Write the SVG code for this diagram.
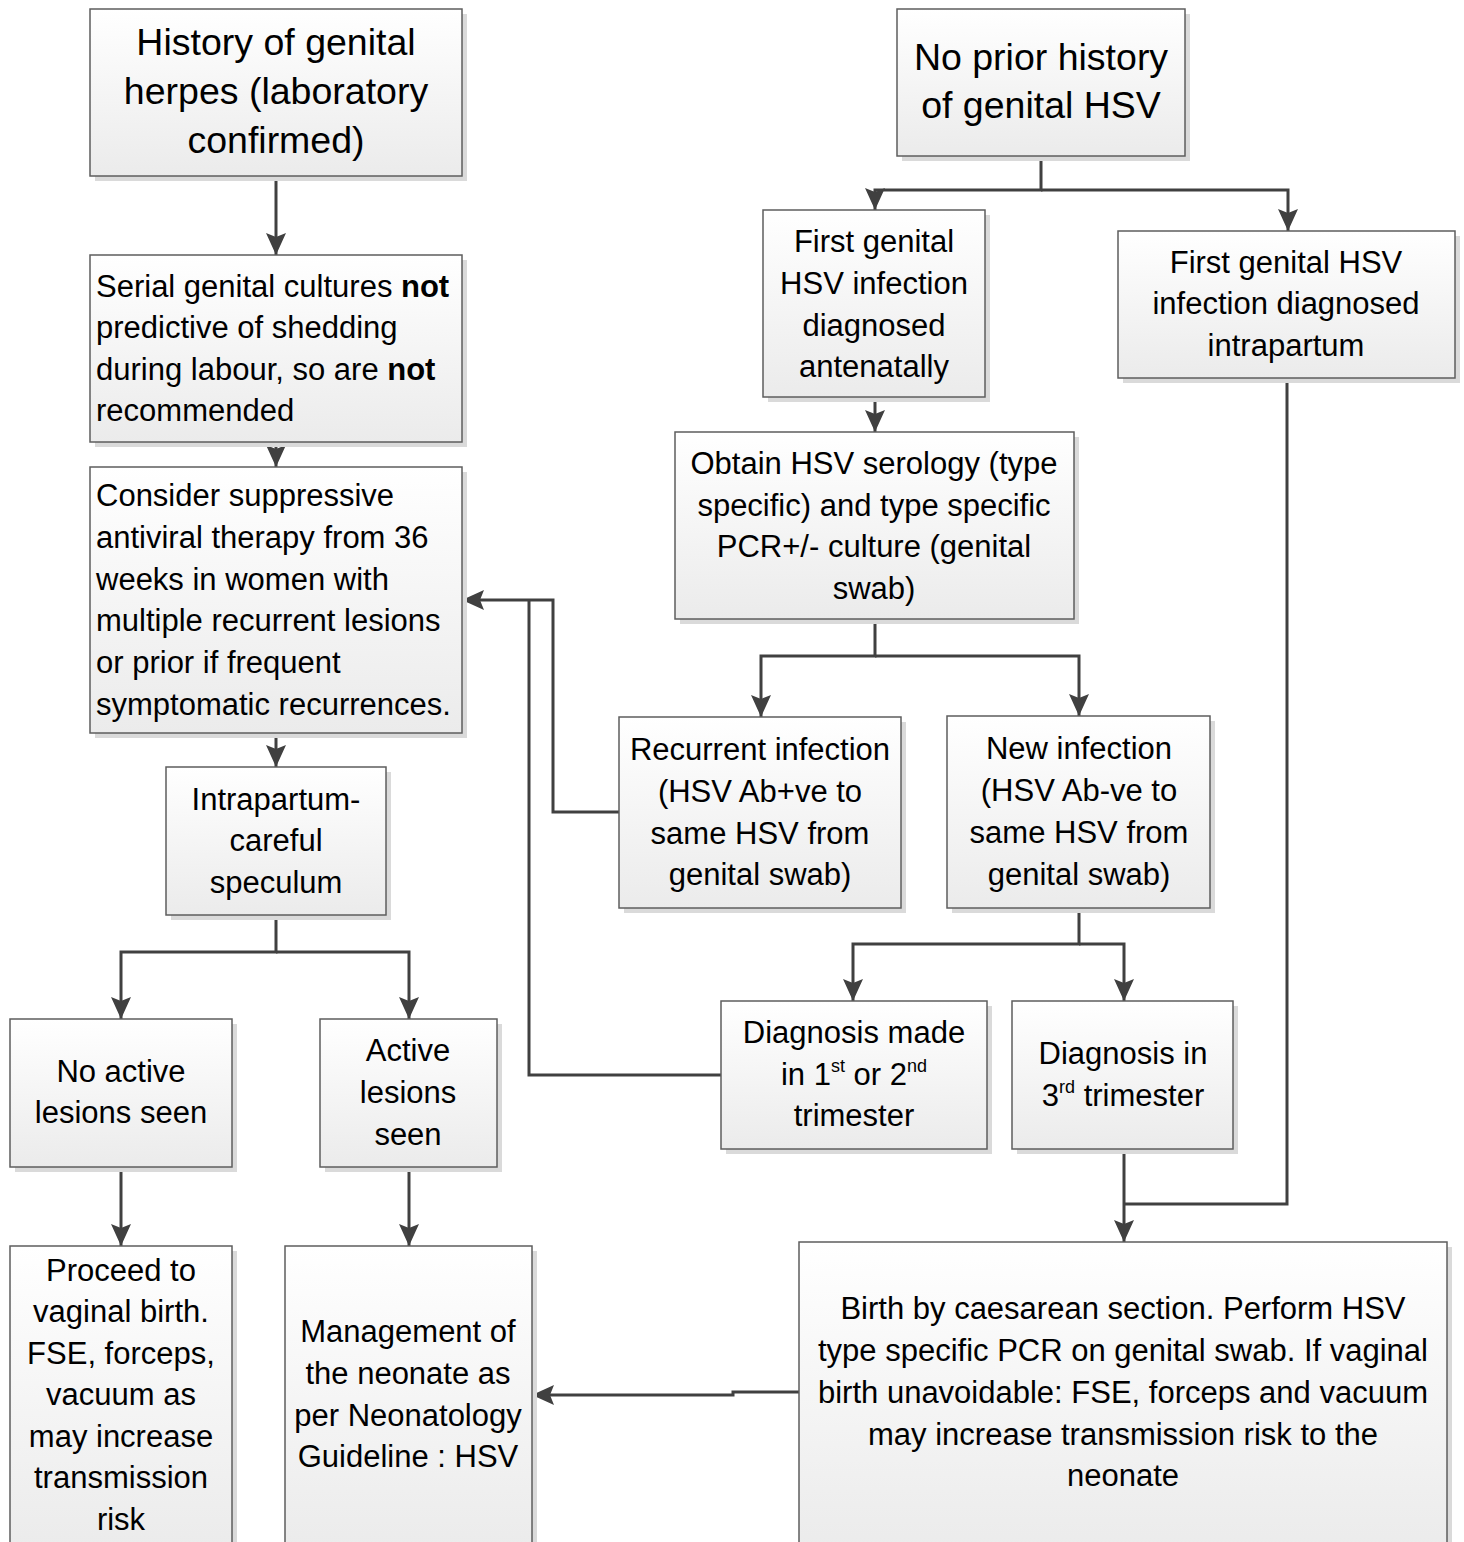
<svg xmlns="http://www.w3.org/2000/svg" width="1464" height="1542" viewBox="0 0 1464 1542">
<defs>
<linearGradient id="g" x1="0" y1="0" x2="0" y2="1">
<stop offset="0" stop-color="#ffffff"/>
<stop offset="1" stop-color="#ebebeb"/>
</linearGradient>
<marker id="ah" markerUnits="userSpaceOnUse" markerWidth="22" markerHeight="22" viewBox="0 0 22 22" refX="22" refY="11" orient="auto">
<path d="M0,1 L22,11 L0,21 L4,11 z" fill="#404040"/>
</marker>
</defs>
<style>
.sh{fill:#dadada}
.bx{fill:url(#g);stroke:#5e5e5e;stroke-width:1.5}
text{font-family:"Liberation Sans",Arial,sans-serif;fill:#000}
.t{font-size:37.5px;text-anchor:middle}
.b{font-size:31px;text-anchor:middle}
.l{font-size:31px}
.c{fill:none;stroke:#404040;stroke-width:3}
.a{marker-end:url(#ah)}
.sup{font-size:18px}
</style>
<rect width="1464" height="1542" fill="#fff"/>

<g id="connectors">
<path class="c a" d="M276,176 V255"/>
<path class="c a" d="M276,442 V467"/>
<path class="c a" d="M276,733 V767"/>
<path class="c a" d="M276,915 V952 H121 V1019"/>
<path class="c a" d="M276,952 H409 V1019"/>
<path class="c a" d="M121,1167 V1246"/>
<path class="c a" d="M409,1167 V1246"/>
<path class="c a" d="M1041,156 V190 H875 V210"/>
<path class="c a" d="M1041,190 H1288 V231"/>
<path class="c a" d="M875,397 V432"/>
<path class="c a" d="M875,619 V656 H761 V717"/>
<path class="c a" d="M875,656 H1079 V716"/>
<path class="c a" d="M619,812 H553 V600 H462"/>
<path class="c" d="M721,1075 H529 V600"/>
<path class="c a" d="M1079,908 V944 H853 V1001"/>
<path class="c a" d="M1079,944 H1124 V1001"/>
<path class="c a" d="M1124,1149 V1242"/>
<path class="c" d="M1287,378 V1204 H1124"/>
<path class="c a" d="M799,1392 H733 V1395 H532"/>
</g>

<g id="n1">
<rect class="sh" x="95" y="14" width="372" height="167"/>
<rect class="bx" x="90" y="9" width="372" height="167"/>
<text class="t"><tspan x="276" y="55">History of genital</tspan><tspan x="276" y="104">herpes (laboratory</tspan><tspan x="276" y="153">confirmed)</tspan></text>
</g>

<g id="n2">
<rect class="sh" x="95" y="260" width="372" height="187"/>
<rect class="bx" x="90" y="255" width="372" height="187"/>
<text class="l"><tspan x="96" y="297">Serial genital cultures <tspan font-weight="bold">not</tspan></tspan><tspan x="96" y="338">predictive of shedding</tspan><tspan x="96" y="380">during labour, so are <tspan font-weight="bold">not</tspan></tspan><tspan x="96" y="421">recommended</tspan></text>
</g>

<g id="n3">
<rect class="sh" x="95" y="472" width="372" height="266"/>
<rect class="bx" x="90" y="467" width="372" height="266"/>
<text class="l"><tspan x="96" y="506">Consider suppressive</tspan><tspan x="96" y="548">antiviral therapy from 36</tspan><tspan x="96" y="590">weeks in women with</tspan><tspan x="96" y="631">multiple recurrent lesions</tspan><tspan x="96" y="673">or prior if frequent</tspan><tspan x="96" y="715">symptomatic recurrences.</tspan></text>
</g>

<g id="n4">
<rect class="sh" x="171" y="772" width="220" height="148"/>
<rect class="bx" x="166" y="767" width="220" height="148"/>
<text class="b"><tspan x="276" y="810">Intrapartum-</tspan><tspan x="276" y="851">careful</tspan><tspan x="276" y="893">speculum</tspan></text>
</g>

<g id="n5">
<rect class="sh" x="15" y="1024" width="222" height="148"/>
<rect class="bx" x="10" y="1019" width="222" height="148"/>
<text class="b"><tspan x="121" y="1082">No active</tspan><tspan x="121" y="1123">lesions seen</tspan></text>
</g>

<g id="n6">
<rect class="sh" x="325" y="1024" width="177" height="148"/>
<rect class="bx" x="320" y="1019" width="177" height="148"/>
<text class="b"><tspan x="408" y="1061">Active</tspan><tspan x="408" y="1103">lesions</tspan><tspan x="408" y="1145">seen</tspan></text>
</g>

<g id="n7">
<rect class="sh" x="15" y="1251" width="222" height="300"/>
<rect class="bx" x="10" y="1246" width="222" height="305"/>
<text class="b"><tspan x="121" y="1281">Proceed to</tspan><tspan x="121" y="1322">vaginal birth.</tspan><tspan x="121" y="1364">FSE, forceps,</tspan><tspan x="121" y="1405">vacuum as</tspan><tspan x="121" y="1447">may increase</tspan><tspan x="121" y="1488">transmission</tspan><tspan x="121" y="1530">risk</tspan></text>
</g>

<g id="n8">
<rect class="sh" x="290" y="1251" width="247" height="300"/>
<rect class="bx" x="285" y="1246" width="247" height="305"/>
<text class="b"><tspan x="408" y="1342">Management of</tspan><tspan x="408" y="1384">the neonate as</tspan><tspan x="408" y="1426">per Neonatology</tspan><tspan x="408" y="1467">Guideline : HSV</tspan></text>
</g>

<g id="n9">
<rect class="sh" x="902" y="14" width="288" height="147"/>
<rect class="bx" x="897" y="9" width="288" height="147"/>
<text class="t"><tspan x="1041" y="70">No prior history</tspan><tspan x="1041" y="118">of genital HSV</tspan></text>
</g>

<g id="n10">
<rect class="sh" x="768" y="215" width="222" height="187"/>
<rect class="bx" x="763" y="210" width="222" height="187"/>
<text class="b"><tspan x="874" y="252">First genital</tspan><tspan x="874" y="294">HSV infection</tspan><tspan x="874" y="336">diagnosed</tspan><tspan x="874" y="377">antenatally</tspan></text>
</g>

<g id="n11">
<rect class="sh" x="1123" y="236" width="337" height="147"/>
<rect class="bx" x="1118" y="231" width="337" height="147"/>
<text class="b"><tspan x="1286" y="273">First genital HSV</tspan><tspan x="1286" y="314">infection diagnosed</tspan><tspan x="1286" y="356">intrapartum</tspan></text>
</g>

<g id="n12">
<rect class="sh" x="680" y="437" width="399" height="187"/>
<rect class="bx" x="675" y="432" width="399" height="187"/>
<text class="b"><tspan x="874" y="474">Obtain HSV serology (type</tspan><tspan x="874" y="516">specific) and type specific</tspan><tspan x="874" y="557">PCR+/- culture (genital</tspan><tspan x="874" y="599">swab)</tspan></text>
</g>

<g id="n13">
<rect class="sh" x="624" y="722" width="282" height="191"/>
<rect class="bx" x="619" y="717" width="282" height="191"/>
<text class="b"><tspan x="760" y="760">Recurrent infection</tspan><tspan x="760" y="802">(HSV Ab+ve to</tspan><tspan x="760" y="844">same HSV from</tspan><tspan x="760" y="885">genital swab)</tspan></text>
</g>

<g id="n14">
<rect class="sh" x="952" y="721" width="263" height="192"/>
<rect class="bx" x="947" y="716" width="263" height="192"/>
<text class="b"><tspan x="1079" y="759">New infection</tspan><tspan x="1079" y="801">(HSV Ab-ve to</tspan><tspan x="1079" y="843">same HSV from</tspan><tspan x="1079" y="885">genital swab)</tspan></text>
</g>

<g id="n15">
<rect class="sh" x="726" y="1006" width="266" height="148"/>
<rect class="bx" x="721" y="1001" width="266" height="148"/>
<text class="b"><tspan x="854" y="1043">Diagnosis made</tspan><tspan x="854" y="1085">in 1<tspan class="sup" dy="-13">st</tspan><tspan dy="13"> or 2</tspan><tspan class="sup" dy="-13">nd</tspan></tspan><tspan x="854" y="1126">trimester</tspan></text>
</g>

<g id="n16">
<rect class="sh" x="1017" y="1006" width="221" height="148"/>
<rect class="bx" x="1012" y="1001" width="221" height="148"/>
<text class="b"><tspan x="1123" y="1064">Diagnosis in</tspan><tspan x="1123" y="1106">3<tspan class="sup" dy="-13">rd</tspan><tspan dy="13"> trimester</tspan></tspan></text>
</g>

<g id="n17">
<rect class="sh" x="804" y="1247" width="648" height="305"/>
<rect class="bx" x="799" y="1242" width="648" height="310"/>
<text class="b"><tspan x="1123" y="1319">Birth by caesarean section. Perform HSV</tspan><tspan x="1123" y="1361">type specific PCR on genital swab. If vaginal</tspan><tspan x="1123" y="1403">birth unavoidable: FSE, forceps and vacuum</tspan><tspan x="1123" y="1445">may increase transmission risk to the</tspan><tspan x="1123" y="1486">neonate</tspan></text>
</g>
</svg>
